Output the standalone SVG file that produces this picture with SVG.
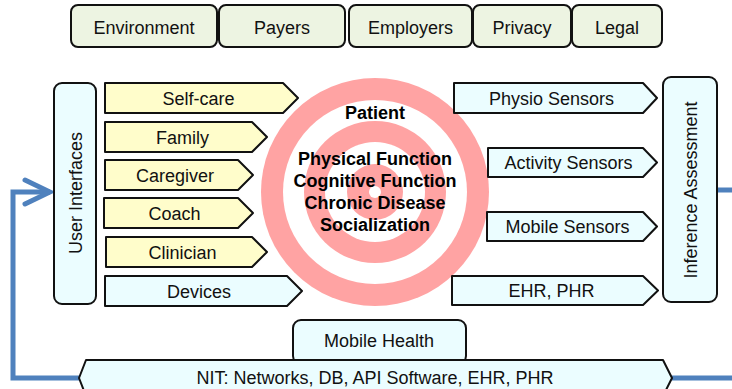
<svg xmlns="http://www.w3.org/2000/svg" width="732" height="389" viewBox="0 0 732 389">
<defs>
<style>
.box{stroke:#111;stroke-width:2;stroke-linejoin:round}
.grn{fill:#EDF4E2}
.cyn{fill:#EBFDFF}
.yel{fill:#FFFDCB}
.t{font-family:"Liberation Sans",Arial,sans-serif;font-size:18px;fill:#111;text-anchor:middle}
.b{font-weight:bold;fill:#000}
.conn{fill:none;stroke:#4F81BD;stroke-width:5;stroke-linejoin:miter}
</style>
<marker id="chev" markerUnits="userSpaceOnUse" viewBox="0 0 32 30" markerWidth="32" markerHeight="30" refX="28" refY="15" orient="auto">
<path d="M3,3 L28,15 L3,27" fill="none" stroke="#4F81BD" stroke-width="5" stroke-linecap="round" stroke-linejoin="miter"/>
</marker>
</defs>
<rect width="732" height="389" fill="#fff"/>

<g id="target">
<circle cx="375" cy="192" r="114" fill="#FFA3A3"/>
<circle cx="375" cy="192" r="92" fill="#fff"/>
<circle cx="375" cy="192" r="71" fill="#FFA3A3"/>
<circle cx="375" cy="192" r="50" fill="#fff"/>
<circle cx="375" cy="192" r="28" fill="#FFA3A3"/>
<circle cx="375" cy="192" r="6" fill="#fff"/>
<text class="t b" x="375" y="119">Patient</text>
<text class="t b" x="375" y="165">Physical Function</text>
<text class="t b" x="375" y="187">Cognitive Function</text>
<text class="t b" x="375" y="209">Chronic Disease</text>
<text class="t b" x="375" y="231">Socialization</text>
</g>

<g id="connectors">
<path class="conn" d="M80,378 H13 V192 H50" marker-end="url(#chev)"/>
<path class="conn" d="M717,190 H732"/>
<path class="conn" d="M672,378 H732"/>
</g>

<g id="environment"><rect class="box grn" x="71" y="5" width="146" height="42" rx="7"/><text class="t" x="144" y="34">Environment</text></g>
<g id="payers"><rect class="box grn" x="219" y="5" width="126" height="42" rx="7"/><text class="t" x="282" y="34">Payers</text></g>
<g id="employers"><rect class="box grn" x="349" y="5" width="123" height="42" rx="7"/><text class="t" x="410.5" y="34">Employers</text></g>
<g id="privacy"><rect class="box grn" x="473" y="5" width="98" height="42" rx="7"/><text class="t" x="522" y="34">Privacy</text></g>
<g id="legal"><rect class="box grn" x="572" y="5" width="90" height="42" rx="7"/><text class="t" x="617" y="34">Legal</text></g>

<g id="user-interfaces"><rect class="box cyn" x="54" y="83" width="42" height="221" rx="8"/><text class="t" transform="translate(82,193) rotate(-90)">User Interfaces</text></g>
<g id="inference-assessment"><rect class="box cyn" x="663" y="77" width="54" height="225" rx="8"/><text class="t" transform="translate(697,190) rotate(-90)">Inference Assessment</text></g>

<g id="self-care"><path class="box yel" d="M105,83 H283 L298,98 L283,113 H105 Z"/><text class="t" x="198.5" y="104.5">Self-care</text></g>
<g id="family"><path class="box yel" d="M105,122 H252 L267,137 L252,152 H105 Z"/><text class="t" x="182.5" y="143.5">Family</text></g>
<g id="caregiver"><path class="box yel" d="M105,160 H238 L253,175 L238,190 H105 Z"/><text class="t" x="175" y="181.5">Caregiver</text></g>
<g id="coach"><path class="box yel" d="M104,198 H238 L253,213 L238,228 H104 Z"/><text class="t" x="174.5" y="219.5">Coach</text></g>
<g id="clinician"><path class="box yel" d="M106,237 H252 L267,252 L252,267 H106 Z"/><text class="t" x="182.5" y="258.5">Clinician</text></g>
<g id="devices"><path class="box cyn" d="M105,276 H287 L302,291 L287,306 H105 Z"/><text class="t" x="199" y="297.5">Devices</text></g>

<g id="physio-sensors"><path class="box cyn" d="M454,83 H643 L657,98 L643,113 H454 Z"/><text class="t" x="551.5" y="104.5">Physio Sensors</text></g>
<g id="activity-sensors"><path class="box cyn" d="M488,148 H643 L657,162.5 L643,177 H488 Z"/><text class="t" x="568.5" y="169">Activity Sensors</text></g>
<g id="mobile-sensors"><path class="box cyn" d="M487,212 H643 L657,226.5 L643,241 H487 Z"/><text class="t" x="567.5" y="233">Mobile Sensors</text></g>
<g id="ehr-phr"><path class="box cyn" d="M452,276 H643 L658,290.5 L643,305 H452 Z"/><text class="t" x="551.5" y="297">EHR, PHR</text></g>

<g id="mobile-health"><rect class="box cyn" x="293" y="320" width="173" height="44" rx="8"/><text class="t" x="379" y="347">Mobile Health</text></g>
<g id="nit"><path class="box cyn" d="M86,360 H663 L672,378 L663,396 H86 L79,378 Z"/><text class="t" x="375" y="384">NIT: Networks, DB, API Software, EHR, PHR</text></g>
</svg>
